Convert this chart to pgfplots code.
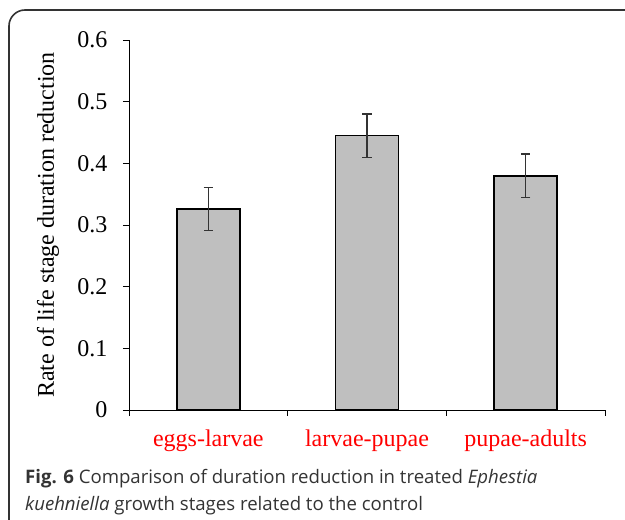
\documentclass[border=0pt]{standalone}
\usepackage{pgfplots}
\pgfplotsset{compat=1.18}
\usepackage{fontspec}
\setmainfont{Liberation Serif}
\newfontfamily\capfont{Open Sans}

\begin{document}
\begin{tikzpicture}
\begin{scope}
  \clip (0pt,0pt) rectangle (625pt,520pt);
  \draw[line width=1.6pt, black!80, rounded corners=16pt] (9pt,-40pt) -- (9pt,510pt) -- (680pt,510pt);
\end{scope}

\begin{axis}[
    at={(129pt,110pt)}, anchor=south west,
    scale only axis,
    width=476pt, height=370pt,
    xmin=-0.5, xmax=2.5,
    ymin=0, ymax=0.6,
    axis lines*=left,
    axis line style={line width=0.8pt},
    tick style={line width=0.8pt, black},
    tick align=outside,
    major tick length=6pt,
    xtick={-0.5,0.5,1.5,2.5},
    xticklabels={eggs-larvae,larvae-pupae,pupae-adults},
    x tick label as interval,
    ytick={0,0.1,...,0.6},
    yticklabels={0,0.1,0.2,0.3,0.4,0.5,0.6},
    tick label style={font=\fontsize{24}{28}\selectfont},
    x tick label style={text=red, yshift=-10pt},
    y tick label style={xshift=-12pt},
    /pgf/number format/assume math mode=true,
    ylabel={Rate of life stage duration reduction},
    every axis y label/.style={at={(axis description cs:0,0.5)}, xshift=-81pt, rotate=90, anchor=center},
    label style={font=\fontsize{24}{28}\selectfont},
]
\addplot[ybar, bar width=63pt, fill=black!25, draw=black, line width=1.8pt,
    error bars/.cd, y dir=both, y explicit,
    error bar style={line width=1.2pt, black!80},
    error mark options={rotate=90, mark size=4.6pt, line width=1.2pt, black!80}]
  coordinates {
    (0,0.326) +- (0,0.035)
    (1,0.445) +- (0,0.035)
    (2,0.380) +- (0,0.035)
  };
\end{axis}

\node[anchor=base west, inner sep=0, text=black!80, font=\capfont\fontsize{18.6}{27}\selectfont]
  at (25pt,36pt) {\textbf{Fig. 6} Comparison of duration reduction in treated \textit{Ephestia}};
\node[anchor=base west, inner sep=0, text=black!80, font=\capfont\fontsize{18.6}{27}\selectfont]
  at (25pt,9pt) {\textit{kuehniella} growth stages related to the control};
\pgfresetboundingbox
\path[use as bounding box] (0pt,0pt) rectangle (625pt,520pt);
\end{tikzpicture}
\end{document}
